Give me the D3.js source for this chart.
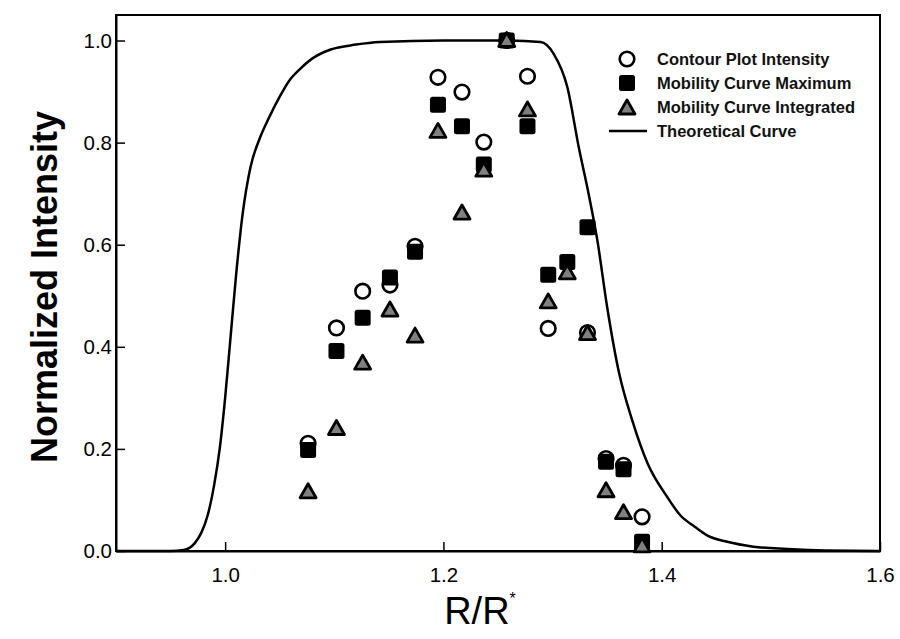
<!DOCTYPE html>
<html><head><meta charset="utf-8">
<script src="https://cdn.jsdelivr.net/npm/d3@7"></script>
<style>body{margin:0;background:#fff}svg{display:block;font-family:"Liberation Sans",Arial,sans-serif}</style>
</head><body>
<svg id="c" width="900" height="639"></svg>
<script>
const xPos = [1.076,1.102,1.126,1.151,1.174,1.195,1.217,1.237,1.258,1.277,1.296,1.3135,1.332,1.349,1.365,1.382];
const contour = [0.211,0.437,0.509,0.521,0.597,0.928,0.899,0.801,1.0,0.930,0.436,null,0.428,0.181,0.168,0.067];
const mobMax =  [0.198,0.392,0.457,0.536,0.586,0.874,0.832,0.757,1.0,0.832,0.541,0.566,0.634,0.175,0.160,0.018];
const mobInt =  [0.116,0.240,0.368,0.472,0.421,0.822,0.662,0.746,1.0,0.864,0.488,0.545,0.426,0.118,0.075,0.010];
const theoX = [0.90,0.95,0.962,0.972,0.978,0.984,0.99,0.995,1.0,1.005,1.01,1.016,1.023,1.032,1.04,1.05,1.06,1.069,1.08,1.096,1.12,1.142,1.2,1.25,1.289,1.301,1.3135,1.324,1.333,1.341,1.350,1.361,1.373,1.387,1.405,1.417,1.43,1.442,1.46,1.484,1.515,1.55,1.6];
const theoY = [0,0,0.002,0.015,0.035,0.07,0.13,0.2,0.3,0.42,0.54,0.66,0.75,0.81,0.848,0.89,0.925,0.945,0.965,0.982,0.992,0.997,1.0,1.0,0.997,0.974,0.909,0.791,0.70,0.609,0.478,0.348,0.256,0.172,0.106,0.07,0.048,0.030,0.018,0.0085,0.004,0.001,0];
const xTicks = [1.0,1.2,1.4,1.6];
const yTicks = [0.0,0.2,0.4,0.6,0.8,1.0];
const legendLabels = ["Contour Plot Intensity","Mobility Curve Maximum","Mobility Curve Integrated","Theoretical Curve"];

const svg = d3.select("#c");
const L=116,R=880,T=15,B=551;
const x = d3.scaleLinear().domain([0.9,1.6]).range([L,R]);
const y = d3.scaleLinear().domain([0,1.05]).range([B,T]);

svg.append("rect").attr("x",L).attr("y",T).attr("width",R-L).attr("height",B-T)
  .attr("fill","none").attr("stroke","#000").attr("stroke-width",2);

const xa = svg.append("g").attr("transform",`translate(0,${B})`)
  .call(d3.axisBottom(x).tickValues(xTicks).tickFormat(d3.format(".1f")).tickSizeInner(-9).tickSizeOuter(0).tickPadding(14));
xa.select(".domain").attr("stroke-width",2);
xa.selectAll(".tick line").attr("stroke-width",1.5);
xa.selectAll("text").attr("font-size",20.5).attr("fill","#000").attr("dy","0.85em");
const ya = svg.append("g").attr("transform",`translate(${L},0)`)
  .call(d3.axisLeft(y).tickValues(yTicks).tickFormat(d3.format(".1f")).tickSizeInner(-9).tickSizeOuter(0).tickPadding(4));
ya.select(".domain").attr("stroke-width",2);
ya.selectAll(".tick line").attr("stroke-width",1.5);
ya.selectAll("text").attr("font-size",20.5).attr("fill","#000");

svg.append("text").attr("transform",`translate(57,${(T+B)/2+4}) rotate(-90)`).attr("text-anchor","middle")
  .attr("font-size",36).attr("font-weight","bold").text("Normalized Intensity");
const xt = svg.append("text").attr("x",480).attr("y",624).attr("text-anchor","middle").attr("font-size",38);
xt.append("tspan").text("R/R");
xt.append("tspan").attr("font-size",16).attr("dy",-20).text("*");

const theo = theoX.map((v,i)=>[v,theoY[i]]);
svg.append("path").datum(theo).attr("fill","none").attr("stroke","#000").attr("stroke-width",2.5)
  .attr("d",d3.line().x(d=>x(d[0])).y(d=>y(d[1])).curve(d3.curveMonotoneX));

const tri = "M0,-8L8,6L-8,6Z";
function drawCircle(g,cx,cy){g.append("circle").attr("cx",cx).attr("cy",cy).attr("r",7.3).attr("fill","#fff").attr("stroke","#000").attr("stroke-width",2.6);}
function drawSquare(g,cx,cy){g.append("rect").attr("x",cx-8).attr("y",cy-8).attr("width",16).attr("height",16).attr("rx",2.5).attr("fill","#000");}
function drawTri(g,cx,cy){g.append("path").attr("d",tri).attr("transform",`translate(${cx},${cy})`).attr("fill","#808080").attr("stroke","#000").attr("stroke-width",2.8).attr("stroke-linejoin","round");}

const pts = svg.append("g");
xPos.forEach((v,i)=>{ if(contour[i]!=null) drawCircle(pts,x(v),y(contour[i])); });
xPos.forEach((v,i)=>{ if(mobMax[i]!=null) drawSquare(pts,x(v),y(mobMax[i])); });
xPos.forEach((v,i)=>{ if(mobInt[i]!=null) drawTri(pts,x(v),y(mobInt[i])); });

const lg = svg.append("g");
const ly = [59,83,107,131];
drawCircle(lg,627,ly[0]); drawSquare(lg,627,ly[1]); drawTri(lg,627,ly[2]+1);
lg.append("line").attr("x1",609).attr("x2",647).attr("y1",ly[3]).attr("y2",ly[3]).attr("stroke","#000").attr("stroke-width",2.5);
legendLabels.forEach((t,i)=>lg.append("text").attr("x",657).attr("y",ly[i]).attr("dy","0.36em")
  .attr("font-size",16.5).attr("font-weight","bold").attr("fill","#111").text(t));
</script>
</body></html>
